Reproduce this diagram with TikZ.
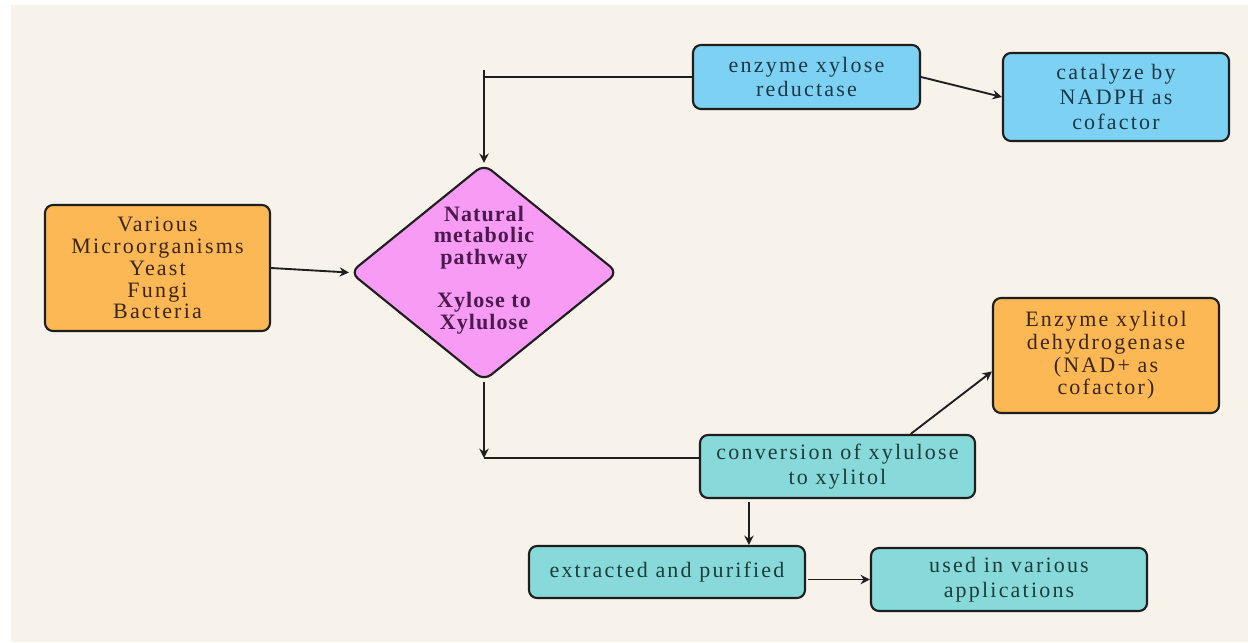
\documentclass[tikz,border=0pt]{standalone}
\usepackage{fontspec}
\setmainfont{Liberation Serif}[LetterSpace=10]
\newfontfamily\pathfont{Liberation Serif}[LetterSpace=5]
\usetikzlibrary{arrows.meta,shapes.geometric,calc}

\definecolor{paper}{HTML}{F7F2EA}
\definecolor{edge}{HTML}{1E1E1E}
\definecolor{orangefill}{HTML}{FBB855}
\definecolor{bluefill}{HTML}{7DD2F4}
\definecolor{tealfill}{HTML}{88DADA}
\definecolor{pinkfill}{HTML}{F79BF5}
\definecolor{browntext}{HTML}{3B2612}
\definecolor{slatetext}{HTML}{1C3846}
\definecolor{tealtext}{HTML}{1D3C3C}
\definecolor{purpletext}{HTML}{4A1A4C}

\begin{document}
\begin{tikzpicture}[x=0.75pt,y=-0.75pt,
  box/.style={draw=edge, line width=1.6pt, rounded corners=6pt, inner sep=0pt,
    align=center, font=\fontsize{16.5}{18.5}\selectfont},
  orangebox/.style={box, fill=orangefill, text=browntext},
  bluebox/.style={box, fill=bluefill, text=slatetext},
  tealbox/.style={box, fill=tealfill, text=tealtext},
  arr/.style={draw=edge, line width=1.4pt, -{Stealth[length=7pt,width=7pt]}},
  link/.style={draw=edge, line width=1.4pt}]

  % page
  \useasboundingbox (0,0) rectangle (1248,642);
  \fill[white] (0,0) rectangle (1248,642);
  \fill[paper] (11,5) rectangle (1248,642);

  % source organisms
  \node[orangebox, minimum width=225*0.75pt, minimum height=126*0.75pt,
        font=\fontsize{16.5}{16.4}\selectfont] (src) at (157.5,268)
    {Various\\Microorganisms\\Yeast\\Fungi\\Bacteria};

  % central pathway decision
  \node[diamond, draw=edge, line width=1.6pt, fill=pinkfill, rounded corners=7pt,
        inner sep=0pt, minimum width=268*0.75pt, minimum height=217*0.75pt] (dia) at (484,272.5) {};
  \node[align=center, text=purpletext, inner sep=0pt,
        font=\pathfont\bfseries\fontsize{16.5}{16.2}\selectfont] (diatext) at (484,270)
    {Natural\\metabolic\\pathway\\[16.2pt]Xylose to\\Xylulose};

  % enzymes and products
  \node[bluebox, minimum width=227*0.75pt, minimum height=64*0.75pt] (enz) at (806.5,77)
    {enzyme xylose\\reductase};
  \node[bluebox, minimum width=226*0.75pt, minimum height=88*0.75pt] (cat) at (1116,97)
    {catalyze by\\NADPH as\\cofactor};
  \node[orangebox, minimum width=226*0.75pt, minimum height=115*0.75pt,
        font=\fontsize{16.5}{17}\selectfont] (xyl) at (1106,355.5)
    {Enzyme xylitol\\dehydrogenase\\(NAD+ as\\cofactor)};
  \node[tealbox, minimum width=275*0.75pt, minimum height=63*0.75pt] (conv) at (837.5,466.5)
    {conversion of xylulose\\to xylitol};
  \node[tealbox, minimum width=276*0.75pt, minimum height=52*0.75pt] (ext) at (667,572)
    {extracted and purified};
  \node[tealbox, minimum width=276*0.75pt, minimum height=63*0.75pt] (used) at (1009,579.5)
    {used in various\\applications};

  % junction points of the elbow connectors
  \coordinate (jt) at (484,70);
  \coordinate (jb) at (484,458);

  % connectors
  \draw[arr] (src.east) -- (dia.west);
  \draw[link] (enz.west) -- (enz.west -| jt);
  \draw[arr] (jt) -- (dia.north);
  \draw[arr] (enz.east) -- (cat.west);
  \draw[arr] (dia.south) -- (jb);
  \draw[link] (jb -| conv.west) -- (jb);
  \draw[arr] ($(conv.north west)!0.764!(conv.north east)$) -- ($(xyl.west)+(0,16)$);
  \draw[arr] ($(conv.south west)+(50,3)$) -- ($(ext.north west)+(221,0)$);
  \draw[arr] ($(ext.east |- used.west)+(2,0)$) -- (used.west);
\end{tikzpicture}
\end{document}
